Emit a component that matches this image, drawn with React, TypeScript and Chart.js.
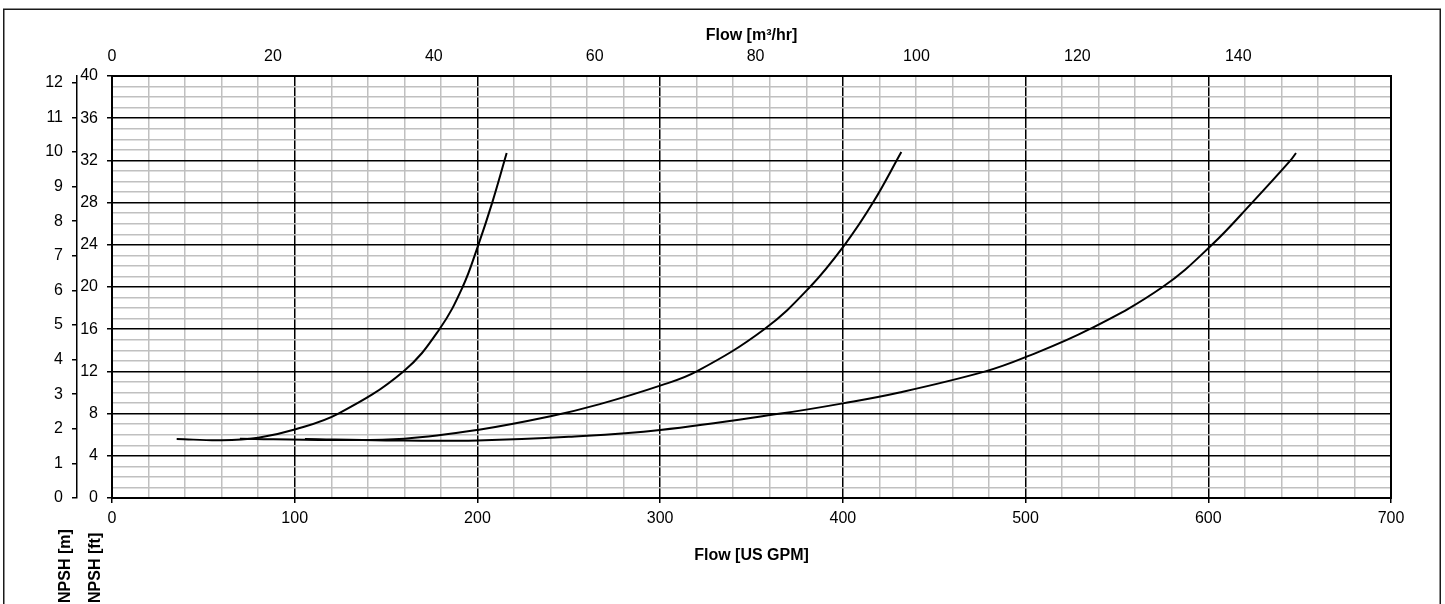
import React, { useEffect, useRef } from "react";
import { Chart, registerables } from "chart.js";

Chart.register(...registerables);

const FONT = "'Liberation Sans', Arial, Helvetica, sans-serif";
const GPM_PER_M3H = 4.402868;
const FT_PER_M = 3.28084;

const xTitle = "Flow [US GPM]";
const x2Title = "Flow [m³/hr]";
const yTitle = "NPSH [ft]";
const y2Title = "NPSH [m]";

const flowMax = 700;
const npshFtMax = 40;

// Curve 1 (smallest)
const curve1Flow = [35.4, 60, 80, 100, 123.9, 159.5, 179.2, 191.9, 200.5, 208.1, 216];
const curve1Npsh = [5.6, 5.47, 5.72, 6.5, 8, 12, 16, 20, 24, 28, 32.7];

// Curve 2 (middle)
const curve2Flow = [70, 120, 160, 200, 240, 267, 300, 320, 357, 382, 401, 416.5, 432];
const curve2Npsh = [5.62, 5.5, 5.62, 6.45, 7.75, 8.9, 10.65, 12, 16, 20, 24, 28, 32.8];

// Curve 3 (largest)
const curve3Flow = [105.6, 150, 200, 250, 300, 366, 400, 431, 478, 500, 535, 575, 602, 624, 645, 648];
const curve3Npsh = [5.6, 5.46, 5.46, 5.8, 6.44, 8, 8.97, 10, 12, 13.35, 16, 20, 24, 28, 32, 32.7];

const toPoints = (xs: number[], ys: number[]) => xs.map((x, i) => ({ x, y: ys[i] }));

const tickFont = { family: FONT, size: 16 };

const chromePlugin = {
  id: "chrome",
  beforeDraw(chart: any) {
    const ctx = chart.ctx;
    ctx.save();
    ctx.fillStyle = "#fff";
    ctx.fillRect(0, 0, chart.width, chart.height);
    ctx.strokeStyle = "#1a1a1a";
    ctx.lineWidth = 1.5;
    ctx.strokeRect(3.75, 9.25, 1436.5, 700);
    ctx.restore();
  },
  afterDraw(chart: any) {
    const { ctx, chartArea: a } = chart;
    ctx.save();
    ctx.strokeStyle = "#000";
    ctx.lineWidth = 2;
    ctx.strokeRect(a.left, a.top, a.right - a.left, a.bottom - a.top);
    ctx.fillStyle = "#000";
    ctx.font = `bold 16px ${FONT}`;
    ctx.textAlign = "center";
    ctx.textBaseline = "alphabetic";
    const cx = (a.left + a.right) / 2;
    ctx.fillText(x2Title, cx, 39.5);
    ctx.textBaseline = "middle";
    ctx.fillText(xTitle, cx, 556);
    ctx.textAlign = "left";
    ctx.textBaseline = "alphabetic";
    ctx.save();
    ctx.translate(69.5, 603);
    ctx.rotate(-Math.PI / 2);
    ctx.fillText(y2Title, 0, 0);
    ctx.restore();
    ctx.save();
    ctx.translate(99.5, 603);
    ctx.rotate(-Math.PI / 2);
    ctx.fillText(yTitle, 0, 0);
    ctx.restore();
    ctx.restore();
  },
};

export default function App() {
  const ref = useRef<HTMLCanvasElement | null>(null);

  useEffect(() => {
    if (!ref.current) return;
    const lineStyle = {
      showLine: true,
      borderColor: "#000",
      backgroundColor: "#000",
      borderWidth: 2,
      pointRadius: 0,
      tension: 0.4,
      fill: false,
      xAxisID: "x",
      yAxisID: "y",
    };
    const chart = new Chart(ref.current, {
      type: "scatter",
      data: {
        datasets: [
          { label: "Curve 1", data: toPoints(curve1Flow, curve1Npsh), ...lineStyle },
          { label: "Curve 2", data: toPoints(curve2Flow, curve2Npsh), ...lineStyle },
          { label: "Curve 3", data: toPoints(curve3Flow, curve3Npsh), ...lineStyle },
        ],
      },
      options: {
        responsive: false,
        animation: false,
        layout: { padding: { left: 0, top: 0, right: 54, bottom: 0 } },
        plugins: { legend: { display: false }, tooltip: { enabled: false }, title: { display: false } },
        scales: {
          x: {
            type: "linear",
            position: "bottom",
            min: 0,
            max: flowMax,
            ticks: {
              stepSize: 20,
              autoSkip: false,
              maxRotation: 0,
              includeBounds: false,
              maxTicksLimit: 1000,
              padding: 6,
              color: "#000",
              font: tickFont,
              callback: (v: any) => (Number(v) % 100 === 0 ? String(v) : ""),
            },
            grid: {
              color: (c: any) => (c.tick && c.tick.value % 100 === 0 ? "#000" : "#c0c0c0"),
              tickColor: (c: any) => (c.tick && c.tick.value % 100 === 0 ? "#000" : "rgba(0,0,0,0)"),
              tickLength: 5,
              lineWidth: 1.5,
            },
            border: { display: false },
            afterFit: (s: any) => {
              s.height = 106;
            },
          },
          x2: {
            type: "linear",
            position: "top",
            min: 0,
            max: flowMax / GPM_PER_M3H,
            ticks: {
              stepSize: 20,
              autoSkip: false,
              maxRotation: 0,
              includeBounds: false,
              maxTicksLimit: 1000,
              padding: 9.5,
              color: "#000",
              font: tickFont,
            },
            grid: { display: false, drawTicks: false },
            border: { display: false },
            afterFit: (s: any) => {
              s.height = 76;
            },
          },
          y: {
            type: "linear",
            position: "left",
            weight: 0,
            min: 0,
            max: npshFtMax,
            ticks: {
              stepSize: 1,
              autoSkip: false,
              includeBounds: false,
              maxTicksLimit: 1000,
              padding: 9,
              color: "#000",
              font: tickFont,
              callback: (v: any) => (Number(v) % 4 === 0 ? String(v) : ""),
            },
            grid: {
              color: (c: any) => (c.tick && c.tick.value % 4 === 0 ? "#000" : "#c0c0c0"),
              tickColor: (c: any) => (c.tick && c.tick.value % 4 === 0 ? "#000" : "rgba(0,0,0,0)"),
              tickLength: 5,
              lineWidth: 1.5,
            },
            border: { display: false },
            afterFit: (s: any) => {
              s.width = 35;
            },
          },
          y2: {
            type: "linear",
            position: "left",
            weight: 1,
            min: 0,
            max: npshFtMax / FT_PER_M,
            ticks: {
              stepSize: 1,
              autoSkip: false,
              includeBounds: false,
              maxTicksLimit: 1000,
              padding: 9,
              color: "#000",
              font: tickFont,
            },
            grid: { drawOnChartArea: false, color: "#000", tickLength: 5, lineWidth: 1.5 },
            border: { display: true, color: "#000", width: 1.5 },
            afterFit: (s: any) => {
              s.width = 77;
            },
          },
        },
      },
      plugins: [chromePlugin],
    } as any);
    return () => chart.destroy();
  }, []);

  return (
    <div style={{ position: "fixed", left: 0, top: 0, width: 1445, height: 604 }}>
      <canvas ref={ref} width={1445} height={604} style={{ display: "block" }} />
    </div>
  );
}
